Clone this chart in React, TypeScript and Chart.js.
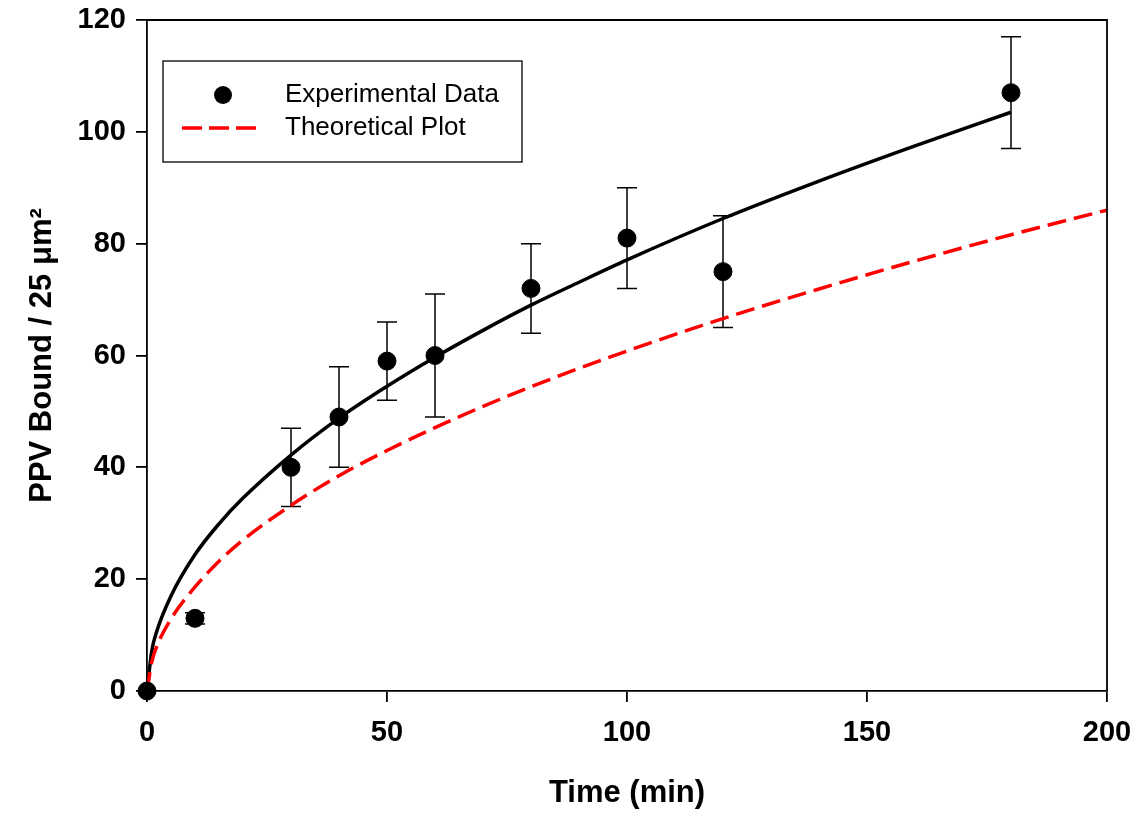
import React, { useEffect, useRef } from "react";
import { Chart, registerables } from "chart.js";

Chart.register(...registerables);

// Experimental data (time in min, PPV bound per 25 µm², symmetric error)
const expTime = [0, 10, 30, 40, 50, 60, 80, 100, 120, 180];
const expPPV = [0, 13, 40, 49, 59, 60, 72, 81, 75, 107];
const expErr = [0, 1, 7, 9, 7, 11, 8, 9, 10, 10];

// Fitted (solid black) curve
const fitTime = [0, 1, 2, 5, 10, 15, 20, 30, 40, 50, 60, 70, 80, 90, 100, 120, 140, 160, 180];
const fitPPV = [0, 7.2, 10.6, 17, 24.4, 29.9, 34.5, 42.2, 48.8, 54.5, 59.7, 64.5, 69, 73.1, 77.1, 84.5, 91.2, 97.5, 103.5];

// Theoretical (red dashed) curve
const theoryTime = [0, 1, 2, 5, 10, 15, 20, 30, 40, 50, 60, 70, 80, 90, 100, 120, 140, 160, 180, 200];
const theoryPPV = [0, 5.2, 7.9, 12.9, 18.6, 23.2, 27.0, 33.2, 38.5, 43, 47.1, 50.9, 54.4, 57.7, 60.8, 66.6, 71.9, 76.9, 81.6, 86];

const xTicks = [0, 50, 100, 150, 200];
const yTicks = [0, 20, 40, 60, 80, 100, 120];

const legendLabels = ["Experimental Data", "Theoretical Plot"];

const FONT = "'Liberation Sans', Arial, Helvetica, sans-serif";

const errorBarPlugin = {
  id: "errorBars",
  beforeDatasetsDraw(chart: any) {
    const { ctx, scales } = chart;
    const xs = scales.x;
    const ys = scales.y;
    ctx.save();
    ctx.strokeStyle = "#000";
    ctx.lineWidth = 1.5;
    for (let i = 0; i < expTime.length; i++) {
      const e = expErr[i];
      if (!e) continue;
      const px = xs.getPixelForValue(expTime[i]);
      const top = ys.getPixelForValue(expPPV[i] + e);
      const bot = ys.getPixelForValue(expPPV[i] - e);
      ctx.beginPath();
      ctx.moveTo(px, top);
      ctx.lineTo(px, bot);
      ctx.moveTo(px - 10, top);
      ctx.lineTo(px + 10, top);
      ctx.moveTo(px - 10, bot);
      ctx.lineTo(px + 10, bot);
      ctx.stroke();
    }
    ctx.restore();
  },
};

const framePlugin = {
  id: "frameAndLegend",
  afterDraw(chart: any) {
    const { ctx, chartArea: ca } = chart;
    ctx.save();
    ctx.strokeStyle = "#000";
    ctx.lineWidth = 1.8;
    ctx.beginPath();
    ctx.moveTo(ca.left, ca.top);
    ctx.lineTo(ca.right, ca.top);
    ctx.lineTo(ca.right, ca.bottom);
    ctx.stroke();

    // legend box
    const lx = ca.left + 16;
    const ly = ca.top + 41;
    const lw = 359;
    const lh = 101;
    ctx.fillStyle = "#fff";
    ctx.fillRect(lx, ly, lw, lh);
    ctx.lineWidth = 1.3;
    ctx.strokeRect(lx, ly, lw, lh);

    const row1 = ca.top + 75;
    const row2 = ca.top + 108;
    ctx.fillStyle = "#000";
    ctx.beginPath();
    ctx.arc(ca.left + 76, row1, 9, 0, Math.PI * 2);
    ctx.fill();

    ctx.strokeStyle = "#ff0000";
    ctx.lineWidth = 3.5;
    ctx.setLineDash([20, 7]);
    ctx.beginPath();
    ctx.moveTo(ca.left + 35, row2);
    ctx.lineTo(ca.left + 110, row2);
    ctx.stroke();
    ctx.setLineDash([]);

    ctx.fillStyle = "#000";
    ctx.font = `26px ${FONT}`;
    ctx.textAlign = "left";
    ctx.textBaseline = "middle";
    ctx.fillText(legendLabels[0], ca.left + 138, row1);
    ctx.fillText(legendLabels[1], ca.left + 138, row2);
    ctx.restore();
  },
};

export default function App() {
  const ref = useRef<HTMLCanvasElement | null>(null);

  useEffect(() => {
    if (!ref.current) return;
    const chart = new Chart(ref.current, {
      type: "scatter",
      data: {
        datasets: [
          {
            label: legendLabels[0],
            data: expTime.map((t, i) => ({ x: t, y: expPPV[i] })),
            pointRadius: 9,
            pointHoverRadius: 9,
            pointBackgroundColor: "#000",
            pointBorderColor: "#000",
            showLine: false,
            order: 0,
            clip: false as any,
          },
          {
            label: "Fit",
            data: fitTime.map((t, i) => ({ x: t, y: fitPPV[i] })),
            showLine: true,
            pointRadius: 0,
            borderColor: "#000",
            borderWidth: 3.5,
            cubicInterpolationMode: "monotone",
            order: 2,
          },
          {
            label: legendLabels[1],
            data: theoryTime.map((t, i) => ({ x: t, y: theoryPPV[i] })),
            showLine: true,
            pointRadius: 0,
            borderColor: "#ff0000",
            borderWidth: 3.5,
            borderDash: [19, 8],
            cubicInterpolationMode: "monotone",
            order: 1,
          },
        ],
      },
      options: {
        responsive: false,
        animation: false,
        layout: { padding: { top: 20, right: 36, left: 0, bottom: 0 } },
        plugins: { legend: { display: false }, tooltip: { enabled: false } },
        scales: {
          x: {
            type: "linear",
            min: 0,
            max: 200,
            afterBuildTicks: (s: any) => {
              s.ticks = xTicks.map((v) => ({ value: v }));
            },
            afterFit: (s: any) => {
              s.height = 123;
              s.paddingLeft = 0;
              s.paddingRight = 0;
            },
            ticks: {
              color: "#000",
              font: { family: FONT, size: 29, weight: "bold" },
              padding: 14,
              maxRotation: 0,
            },
            grid: {
              drawOnChartArea: false,
              drawTicks: true,
              tickLength: 11,
              color: "#000",
              lineWidth: 1.8,
            },
            border: { display: true, color: "#000", width: 1.8 },
            title: {
              display: true,
              text: "Time (min)",
              color: "#000",
              font: { family: FONT, size: 31, weight: "bold" },
              padding: { top: 0, bottom: 2 },
            },
          },
          y: {
            type: "linear",
            min: 0,
            max: 120,
            afterBuildTicks: (s: any) => {
              s.ticks = yTicks.map((v) => ({ value: v }));
            },
            afterFit: (s: any) => {
              s.width = 147;
              s.paddingTop = 0;
              s.paddingBottom = 0;
            },
            ticks: {
              color: "#000",
              font: { family: FONT, size: 29, weight: "bold" },
              padding: 10,
            },
            grid: {
              drawOnChartArea: false,
              drawTicks: true,
              tickLength: 11,
              color: "#000",
              lineWidth: 1.8,
            },
            border: { display: true, color: "#000", width: 1.8 },
            title: {
              display: true,
              text: "PPV Bound / 25 \u03BCm\u00B2",
              color: "#000",
              font: { family: FONT, size: 31, weight: "bold" },
              padding: { top: 24, bottom: 0 },
            },
          },
        },
      },
      plugins: [errorBarPlugin, framePlugin],
    } as any);
    return () => chart.destroy();
  }, []);

  return (
    <canvas
      ref={ref}
      width={1143}
      height={814}
      style={{ position: "absolute", left: 0, top: 0, display: "block" }}
    />
  );
}
